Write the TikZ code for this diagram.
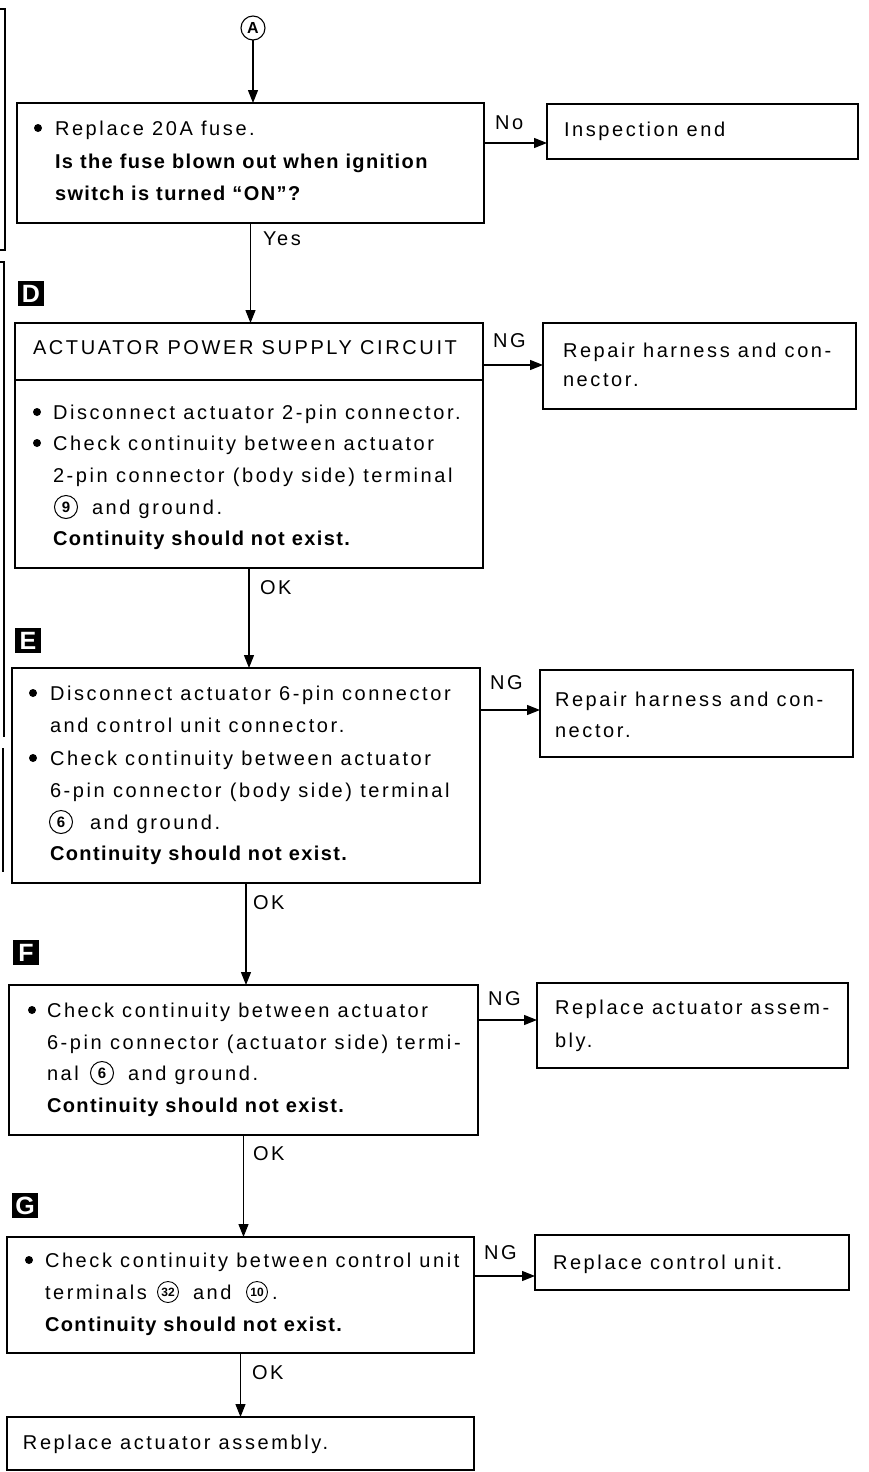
\documentclass[tikz,border=0pt]{standalone}
\usepackage{fontspec}
\setmainfont{Liberation Sans}
\newfontfamily\regf{Liberation Sans}[LetterSpace=13]
\newfontfamily\bldf{Liberation Sans}[LetterSpace=7]
\usetikzlibrary{arrows.meta}
\begin{document}
\begin{tikzpicture}[x=1pt,y=-1pt,
 every node/.style={font=\regf\fontsize{20}{24}\selectfont, inner sep=0pt, outer sep=0pt},
 box/.style={draw, line width=1.7pt, anchor=north west},
 txt/.style={anchor=base west},
 btxt/.style={anchor=base west, font=\bldf\bfseries\fontsize{20}{24}\selectfont},
 dot/.style={circle, fill=black, minimum size=8pt},
 cnum/.style={circle, draw, line width=1pt, minimum size=23pt, font=\bfseries\fontsize{15}{15}\selectfont},
 cnums/.style={circle, draw, line width=0.9pt, minimum size=21pt, font=\bfseries\fontsize{12}{12}\selectfont},
 marker/.style={fill=black, text=white, minimum width=26pt, minimum height=25pt, anchor=north west, font=\bfseries\fontsize{25}{25}\selectfont},
 conn/.style={line width=1.2pt, -{Triangle[length=13pt,width=10pt]}},
 frag/.style={line width=1.3pt}
]
\useasboundingbox (0,0) rectangle (869,1472);

% fragments of the previous page at the left edge
\draw[frag] (0,9) -- (5,9) -- (5,250) -- (0,250);
\draw[frag] (0,262) -- (4,262) -- (4,737);
\draw[frag] (3,748) -- (3,872);

% start
\node[circle, draw, line width=1.1pt, minimum size=24pt, font=\bfseries\fontsize{16}{16}\selectfont] (A) at (253,28) {A};

% box 1
\node[box, minimum width=467pt, minimum height=120pt] (b1) at (17,103) {};
\node[dot] (b1d) at (38,128) {};
\node[txt] (b1t1) at (55,135) {Replace 20A fuse.};
\node[btxt] (b1t2) at (55,168) {Is the fuse blown out when ignition};
\node[btxt] (b1t3) at (55,200) {switch is turned “ON”?};

\node[box, minimum width=311pt, minimum height=55pt] (ie) at (547,104) {};
\node[txt] (iet) at (564,136) {Inspection end};

% box D
\node[marker] (mD) at (18,281) {D};
\node[box, minimum width=468pt, minimum height=245pt] (bD) at (15,323) {};
\coordinate (dv) at (0,380);
\draw[line width=1.7pt] (bD.west |- dv) -- (bD.east |- dv);
\node[txt] (dT) at (33,354) {ACTUATOR POWER SUPPLY CIRCUIT};
\node[dot] (dd1) at (37,412) {};
\node[txt] (d1) at (53,419) {Disconnect actuator 2-pin connector.};
\node[dot] (dd2) at (37,443) {};
\node[txt] (d2) at (53,450) {Check continuity between actuator};
\node[txt] (d3) at (53,482) {2-pin connector (body side) terminal};
\node[cnum] (d9) at (66,507) {9};
\node[txt] (d4) at (92,514) {and ground.};
\node[btxt] (d5) at (53,545) {Continuity should not exist.};

\node[box, minimum width=313pt, minimum height=86pt] (rD) at (543,323) {};
\node[txt] (rD1) at (563,357) {Repair harness and con-};
\node[txt] (rD2) at (563,386) {nector.};

% box E
\node[marker] (mE) at (15,628) {E};
\node[box, minimum width=468pt, minimum height=215pt] (bE) at (12,668) {};
\node[dot] (ed1) at (33,693) {};
\node[txt] (e1) at (50,700) {Disconnect actuator 6-pin connector};
\node[txt] (e2) at (50,732) {and control unit connector.};
\node[dot] (ed2) at (33,758) {};
\node[txt] (e3) at (50,765) {Check continuity between actuator};
\node[txt] (e4) at (50,797) {6-pin connector (body side) terminal};
\node[cnum] (e6) at (61,822) {6};
\node[txt] (e5) at (90,829) {and ground.};
\node[btxt] (e7) at (50,860) {Continuity should not exist.};

\node[box, minimum width=313pt, minimum height=87pt] (rE) at (540,670) {};
\node[txt] (rE1) at (555,706) {Repair harness and con-};
\node[txt] (rE2) at (555,737) {nector.};

% box F
\node[marker] (mF) at (13,940) {F};
\node[box, minimum width=469pt, minimum height=150pt] (bF) at (9,985) {};
\node[dot] (fd1) at (32,1010) {};
\node[txt] (f1) at (47,1017) {Check continuity between actuator};
\node[txt] (f2) at (47,1049) {6-pin connector (actuator side) termi-};
\node[txt] (f3) at (47,1080) {nal};
\node[cnum] (f6) at (102,1073) {6};
\node[txt] (f4) at (128,1080) {and ground.};
\node[btxt] (f5) at (47,1112) {Continuity should not exist.};

\node[box, minimum width=311pt, minimum height=85pt] (rF) at (537,983) {};
\node[txt] (rF1) at (555,1014) {Replace actuator assem-};
\node[txt] (rF2) at (555,1047) {bly.};

% box G
\node[marker] (mG) at (12,1193) {G};
\node[box, minimum width=467pt, minimum height=116pt] (bG) at (7,1237) {};
\node[dot] (gd1) at (29,1260) {};
\node[txt] (g1) at (45,1267) {Check continuity between control unit};
\node[txt] (g2) at (45,1299) {terminals};
\node[cnums] (g32) at (168,1292) {32};
\node[txt] (g3) at (193,1299) {and};
\node[cnums] (g10) at (257,1292) {10};
\node[txt] (g4) at (272,1299) {.};
\node[btxt] (g5) at (45,1331) {Continuity should not exist.};

\node[box, minimum width=314pt, minimum height=55pt] (rG) at (535,1235) {};
\node[txt] (rG1) at (553,1269) {Replace control unit.};

% final
\node[box, minimum width=467pt, minimum height=53pt] (fin) at (7,1417) {};
\node[txt] (fint) at (23,1449) {Replace actuator assembly.};

% vertical connectors
\draw[conn] (A.south) -- (A.south |- b1.north);
\draw[conn] (b1.south) -- (b1.south |- bD.north);
\draw[conn] (bD.south) -- (bD.south |- bE.north);
\draw[conn] (bE.south) -- (bE.south |- bF.north);
\draw[conn] (bF.south) -- (bF.south |- bG.north);
\draw[conn] (bG.south) -- (bG.south |- fin.north);

% side connectors
\coordinate (y1) at (0,143);
\coordinate (y2) at (0,365);
\coordinate (y3) at (0,710);
\coordinate (y4) at (0,1020);
\coordinate (y5) at (0,1276);
\draw[conn] (b1.east |- y1) -- (ie.west |- y1);
\draw[conn] (bD.east |- y2) -- (rD.west |- y2);
\draw[conn] (bE.east |- y3) -- (rE.west |- y3);
\draw[conn] (bF.east |- y4) -- (rF.west |- y4);
\draw[conn] (bG.east |- y5) -- (rG.west |- y5);

% labels
\node[txt] (lNo) at (495,129) {No};
\node[txt] (lYes) at (263,245) {Yes};
\node[txt] (lNG1) at (493,347) {NG};
\node[txt] (lOK1) at (260,594) {OK};
\node[txt] (lNG2) at (490,689) {NG};
\node[txt] (lOK2) at (253,909) {OK};
\node[txt] (lNG3) at (488,1005) {NG};
\node[txt] (lOK3) at (253,1160) {OK};
\node[txt] (lNG4) at (484,1259) {NG};
\node[txt] (lOK4) at (252,1379) {OK};
\end{tikzpicture}
\end{document}
